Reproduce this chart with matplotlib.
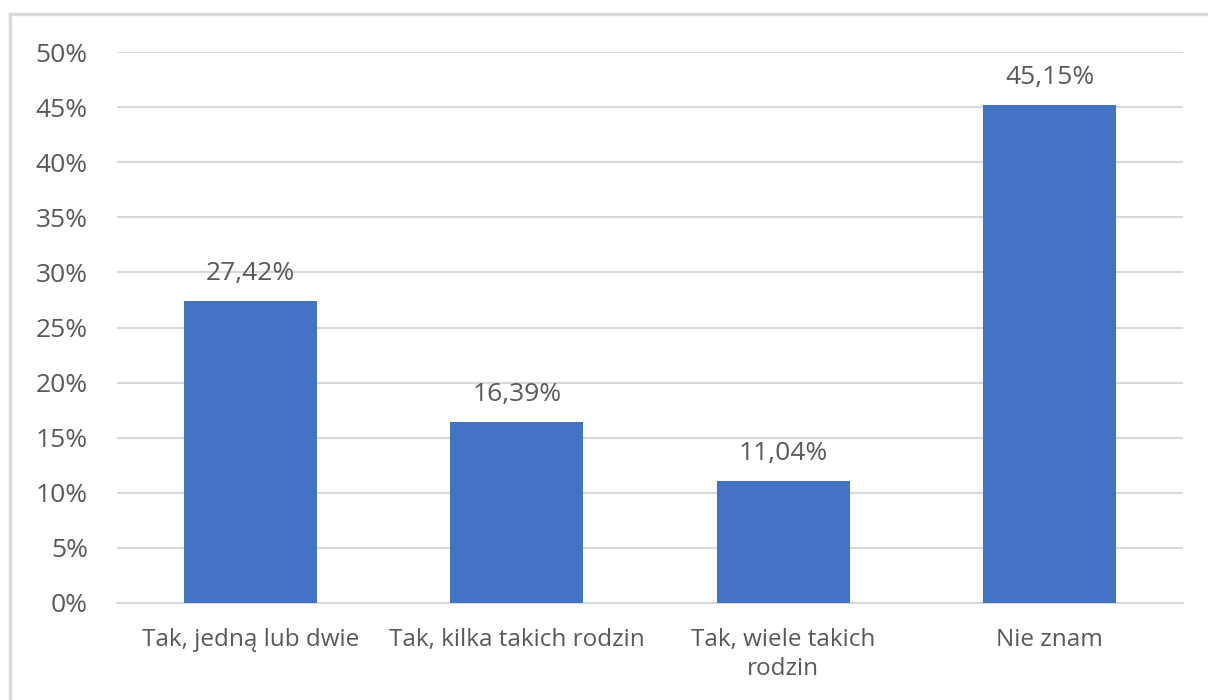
import matplotlib
matplotlib.use("Agg")
import matplotlib.pyplot as plt
from matplotlib.patches import Rectangle

categories = ["Tak, jedną lub dwie", "Tak, kilka takich rodzin", "Tak, wiele takich\nrodzin", "Nie znam"]
values = [27.42, 16.39, 11.04, 45.15]
yticks = [0, 5, 10, 15, 20, 25, 30, 35, 40, 45, 50]

plt.rcParams['font.family'] = ['Open Sans', 'DejaVu Sans']
text_color = "#595959"
grid_color = "#d9d9d9"
bar_color = "#4472c4"

W, H = 1208, 700
fig = plt.figure(figsize=(W/100, H/100), dpi=100)
fig.patch.set_facecolor("white")

# outer border (chart area frame)
fig.patches.append(Rectangle((10/W, -0.1), 1.2, (H-14)/H + 0.1, transform=fig.transFigure,
                             fill=False, edgecolor=grid_color, linewidth=2.5))

left, right, top, bottom = 117, 1183, 52, 603
ax = fig.add_axes([left/W, 1 - bottom/H, (right-left)/W, (bottom-top)/H])

x = list(range(len(categories)))
ax.bar(x, values, width=0.5, color=bar_color, zorder=3)
ax.set_xlim(-0.5, len(categories) - 0.5)
ax.set_ylim(0, 50)
ax.set_yticks(yticks)
ax.set_yticklabels([f"{t}%" for t in yticks], fontsize=19, color=text_color)
ax.set_xticks(x)
ax.set_xticklabels(categories, fontsize=17.5, color=text_color, linespacing=1.3)
ax.tick_params(axis='both', length=0)
ax.tick_params(axis='y', pad=21)
ax.tick_params(axis='x', pad=18)
ax.grid(axis='y', color=grid_color, linewidth=1.5, zorder=0)
for s in ["top", "right", "left"]:
    ax.spines[s].set_visible(False)
ax.spines["bottom"].set_color(grid_color)
ax.spines["bottom"].set_linewidth(1.5)

for xi, v in zip(x, values):
    ax.annotate(f"{v:.2f}%".replace(".", ","), (xi, v), xytext=(0, 11), textcoords="offset points",
                ha="center", va="bottom", fontsize=19, color=text_color)

fig.savefig("out.png", dpi=100)
